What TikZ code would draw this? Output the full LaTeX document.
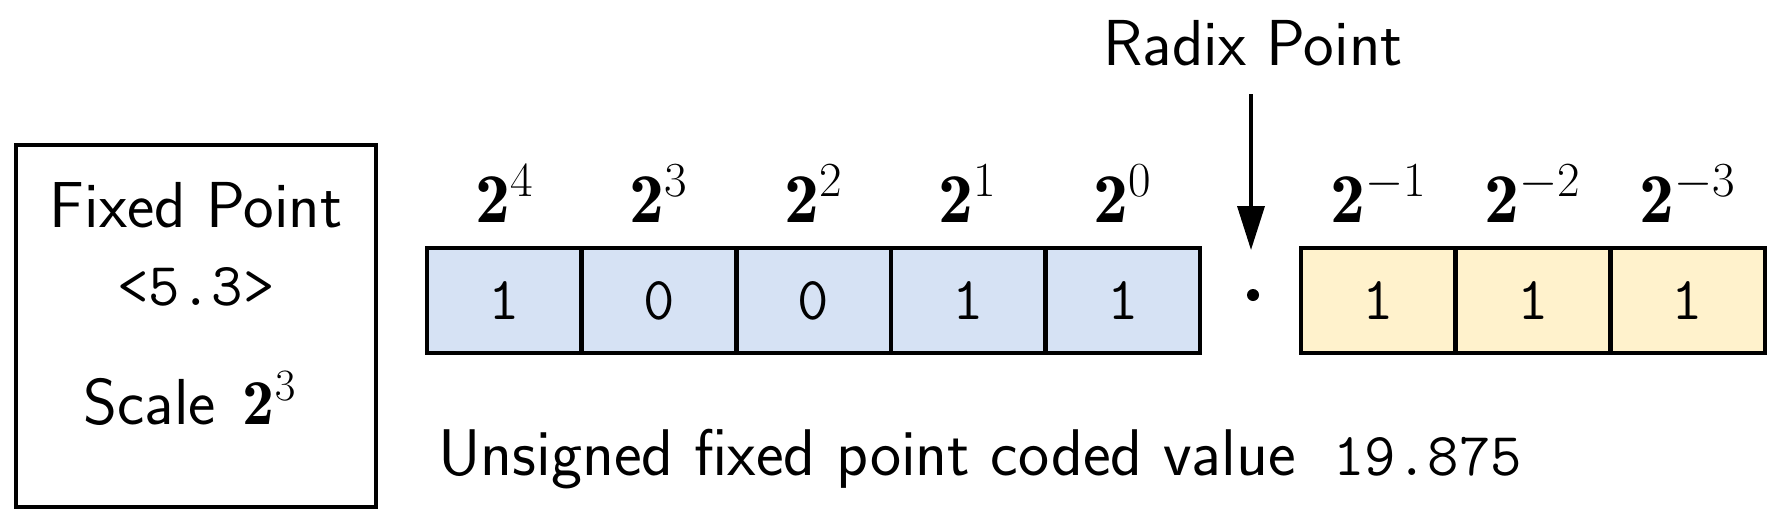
\RequirePackage{fix-cm}
\documentclass[tikz,border=0pt]{standalone}
\usepackage{fontspec}
\usetikzlibrary{arrows.meta}
\definecolor{blueF}{HTML}{D6E2F4}
\definecolor{yellowF}{HTML}{FFF2CC}
\begin{document}
\begin{tikzpicture}[x=0.5pt,y=-0.5pt,
  every node/.style={font=\fontsize{32.5}{38}\selectfont\sffamily, inner sep=0pt},
  cell/.style={draw, line width=2.3pt, minimum width=77.3pt, minimum height=52.5pt, font=\fontsize{30.5}{36}\selectfont\ttfamily},
  bluecell/.style={cell, fill=blueF},
  yellowcell/.style={cell, fill=yellowF},
  expo/.style={anchor=base, font=\fontsize{35}{40}\selectfont},
  txt/.style={anchor=base},
  mono/.style={font=\fontsize{30.5}{36}\selectfont\ttfamily},
  arr/.style={line width=1.8pt, -{Triangle[length=22pt,width=13.5pt]}}
]
\useasboundingbox (0,0) rectangle (1782,520);
% left box
\node[draw, line width=2.3pt, minimum width=180pt, minimum height=181pt] (box) at (196,326) {};
\node[txt] (fp) at (196,227) {Fixed Point};
\node[txt, mono] (fmt) at (196,305) {<5.3>};
\node[txt] (sc) at (190,424) {Scale\hspace{13.5pt}{\fontsize{32}{38}\selectfont$\mathbf{2}^{3}$}};
% blue cells
\node[bluecell] (b1) at (504.3,300.5) {1};
\node[bluecell] (b2) at (658.9,300.5) {0};
\node[bluecell] (b3) at (813.5,300.5) {0};
\node[bluecell] (b4) at (968.1,300.5) {1};
\node[bluecell] (b5) at (1122.7,300.5) {1};
% yellow cells
\node[yellowcell] (y1) at (1378.3,300.5) {1};
\node[yellowcell] (y2) at (1532.9,300.5) {1};
\node[yellowcell] (y3) at (1687.5,300.5) {1};
% exponents
\node[expo] (e1) at (504.3,222) {$\mathbf{2}^{4}$};
\node[expo] (e2) at (658.9,222) {$\mathbf{2}^{3}$};
\node[expo] (e3) at (813.5,222) {$\mathbf{2}^{2}$};
\node[expo] (e4) at (968.1,222) {$\mathbf{2}^{1}$};
\node[expo] (e5) at (1122.7,222) {$\mathbf{2}^{0}$};
\node[expo] (e6) at (1378.3,222) {$\mathbf{2}^{-1}$};
\node[expo] (e7) at (1532.9,222) {$\mathbf{2}^{-2}$};
\node[expo] (e8) at (1687.5,222) {$\mathbf{2}^{-3}$};
% radix point
\node[txt] (radix) at (1253,65) {Radix Point};
\node[circle, fill, minimum size=6pt] (dot) at (1253,295) {};
\coordinate (arrS) at (1251,94);
\coordinate (arrE) at (1251,250);
\draw[arr] (arrS) -- (arrE);
% bottom
\node[anchor=base west, font=\fontsize{33}{38}\selectfont\sffamily] (val) at (438,475) {Unsigned fixed point coded value};
\node[anchor=base west, mono] (num) at (1333,475) {19.875};
\end{tikzpicture}
\end{document}
